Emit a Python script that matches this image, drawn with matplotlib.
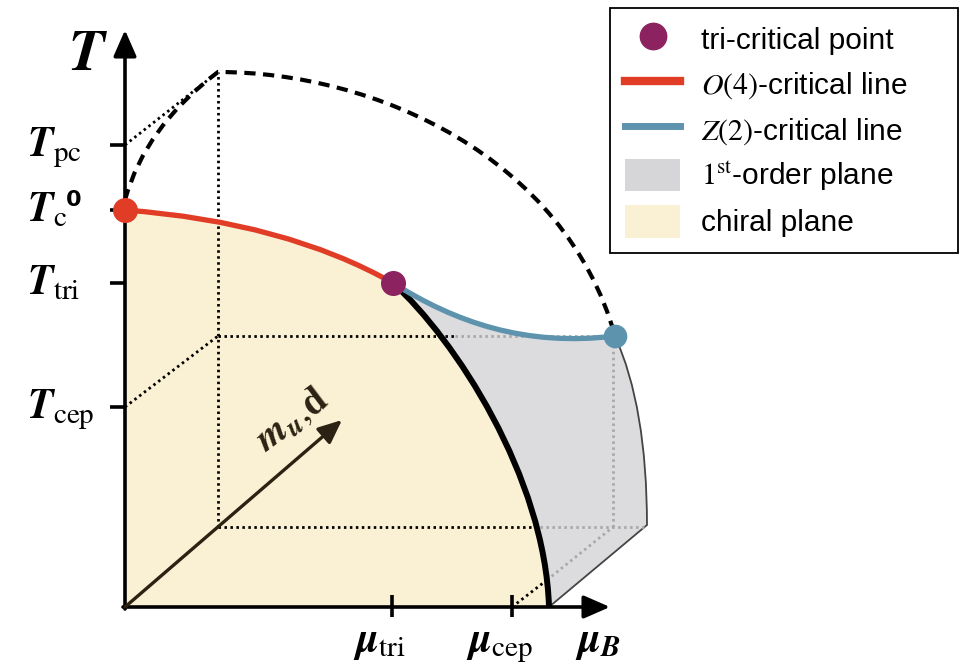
import matplotlib
matplotlib.use("Agg")
import matplotlib.pyplot as plt
from matplotlib.path import Path
from matplotlib.patches import PathPatch, Patch
from matplotlib.lines import Line2D

plt.rcParams["font.family"] = ["Liberation Sans", "DejaVu Sans"]
plt.rcParams["mathtext.fontset"] = "stix"

RED = "#e03c26"
BLUE = "#5e93ae"
PURPLE = "#8c2360"
GREY_PLANE = "#dcdcdf"
YELLOW = "#faf0d3"
ARROW_M = "#2b2213"

# --- schematic values (diagram units: mu to the right, T upwards) ---
T_TICKS = [4.62, 3.97, 3.24, 2.00]
T_LABELS = [r"$\boldsymbol{T}_{\mathrm{pc}}$", r"$\boldsymbol{T}_{\mathrm{c}}$",
            r"$\boldsymbol{T}_{\mathrm{tri}}$", r"$\boldsymbol{T}_{\mathrm{cep}}$"]
MU_TICKS = [2.67, 3.87]
MU_LABELS = [r"$\boldsymbol{\mu}_{\mathrm{tri}}$", r"$\boldsymbol{\mu}_{\mathrm{cep}}$"]

TC_POINT = (0.0, 3.97)
TRI_POINT = (2.68, 3.24)
CEP_POINT = (4.90, 2.71)
O4_CTRL = (1.6, 3.85)
FIRST_CTRL = [(3.3, 2.68), (4.2, 1.3)]
FIRST_END = (4.24, 0.0)
Z2_CTRL = [(3.3, 2.85), (4.0, 2.6)]
PLANE_CORNER = (5.22, 0.82)
EDGE_CTRL = (5.22, 2.0)

PC_START = (0.0, 4.07)
PC_CTRL = (0.2, 4.8)
PC_TOP = (0.93, 5.35)
PC_ARC_CTRL = [(2.5, 5.35), (4.4, 4.5)]

DEPTH = (0.93, 0.80)        # back-corner of the (mu, T) box, along m_ud
M_ARROW_END = (2.17, 1.87)
T_AXIS_TOP = 5.77
MU_AXIS_END = 4.85

fig = plt.figure(figsize=(9.69, 6.65), dpi=100)
ax = fig.add_axes([0, 0, 1, 1])
ax.set_xlim(-1.25, 8.44)
ax.set_ylim(-0.58, 6.07)
ax.axis("off")

M, L, C3, C4, CL = Path.MOVETO, Path.LINETO, Path.CURVE3, Path.CURVE4, Path.CLOSEPOLY

# chiral plane
chiral = Path([(0, 0), TC_POINT, O4_CTRL, TRI_POINT, FIRST_CTRL[0], FIRST_CTRL[1], FIRST_END, (0, 0)],
              [M, L, C3, C3, C4, C4, C4, CL])
ax.add_patch(PathPatch(chiral, facecolor=YELLOW, edgecolor="none", zorder=1))

# first order plane
first = Path([TRI_POINT, FIRST_CTRL[0], FIRST_CTRL[1], FIRST_END, PLANE_CORNER, EDGE_CTRL, CEP_POINT,
              Z2_CTRL[1], Z2_CTRL[0], TRI_POINT, TRI_POINT],
             [M, C4, C4, C4, L, C3, C3, C4, C4, C4, CL])
ax.add_patch(PathPatch(first, facecolor=GREY_PLANE, edgecolor="#444444", lw=1.3, zorder=1))

# dotted helper lines
dot = dict(color="black", lw=2.0, linestyle=(0, (0.9, 1.25)), zorder=2)
gdot = dict(color="#a8a8a8", lw=2.0, linestyle=(0, (0.9, 1.25)), zorder=2)
ax.plot([DEPTH[0], DEPTH[0]], [DEPTH[1], PC_TOP[1]], **dot)
ax.plot([DEPTH[0], 3.30], [CEP_POINT[1], CEP_POINT[1]], **dot)
ax.plot([3.30, CEP_POINT[0]], [CEP_POINT[1], CEP_POINT[1]], **gdot)
ax.plot([DEPTH[0], 4.15], [DEPTH[1], DEPTH[1]], **dot)
ax.plot([4.15, PLANE_CORNER[0]], [DEPTH[1], DEPTH[1]], **gdot)
ax.plot([0, PC_TOP[0]], [T_TICKS[0], PC_TOP[1]], **dot)
ax.plot([0, DEPTH[0]], [T_TICKS[3], CEP_POINT[1]], **dot)
ax.plot([MU_TICKS[1], 4.22], [0, 0.27], **dot)
ax.plot([4.22, 4.88], [0.27, DEPTH[1]], **gdot)
ax.plot([4.88, 4.88], [DEPTH[1], 2.62], **gdot)

# pseudo-critical (dashed) line
dashed = Path([PC_START, PC_CTRL, PC_TOP, PC_ARC_CTRL[0], PC_ARC_CTRL[1], CEP_POINT],
              [M, C3, C3, C4, C4, C4])
ax.add_patch(PathPatch(dashed, fill=False, edgecolor="black", lw=3.0,
                       linestyle=(0, (2.7, 1.8)), zorder=3))

# critical lines
o4 = Path([TC_POINT, O4_CTRL, TRI_POINT], [M, C3, C3])
ax.add_patch(PathPatch(o4, fill=False, edgecolor=RED, lw=3.8, zorder=4, capstyle="round"))
fo = Path([TRI_POINT, FIRST_CTRL[0], FIRST_CTRL[1], FIRST_END], [M, C4, C4, C4])
ax.add_patch(PathPatch(fo, fill=False, edgecolor="black", lw=4.3, zorder=4))
z2 = Path([TRI_POINT, Z2_CTRL[0], Z2_CTRL[1], CEP_POINT], [M, C4, C4, C4])
ax.add_patch(PathPatch(z2, fill=False, edgecolor=BLUE, lw=3.8, zorder=4, capstyle="round"))

# axes arrows
axis_arrow = dict(arrowstyle="-|>,head_length=0.8,head_width=0.35", lw=2.6, color="black",
                  shrinkA=0, shrinkB=0, mutation_scale=20)
ax.annotate("", xy=(0, T_AXIS_TOP), xytext=(0, -0.02), arrowprops=axis_arrow, zorder=5)
ax.annotate("", xy=(MU_AXIS_END, 0), xytext=(-0.02, 0), arrowprops=axis_arrow, zorder=5)
ax.annotate("", xy=M_ARROW_END, xytext=(0, 0), zorder=5,
            arrowprops=dict(arrowstyle="-|>,head_length=0.8,head_width=0.35", lw=2.4,
                            color=ARROW_M, shrinkA=0, shrinkB=0, mutation_scale=18))

# ticks
for t in T_TICKS:
    ax.plot([-0.15, 0], [t, t], color="black", lw=2.6, zorder=5, solid_capstyle="butt")
for m in MU_TICKS:
    ax.plot([m, m], [-0.10, 0.12], color="black", lw=2.6, zorder=5, solid_capstyle="butt")

# points
ax.plot(*TC_POINT, "o", color=RED, ms=17, zorder=6)
ax.plot(*TRI_POINT, "o", color=PURPLE, ms=17, zorder=6)
ax.plot(*CEP_POINT, "o", color=BLUE, ms=16, zorder=6)

# labels
ax.text(-0.37, 5.52, r"$\boldsymbol{T}$", fontsize=42, ha="center", va="center")
for t, lab in zip(T_TICKS, T_LABELS):
    ax.text(-0.98, t - 0.11, lab, fontsize=30, ha="left", va="baseline")
ax.text(-0.51, 4.07, "0", fontsize=16, fontweight="bold", family="DejaVu Sans",
        ha="center", va="center")
for m, lab in zip(MU_TICKS, MU_LABELS):
    ax.text(m - 0.12, -0.44, lab, fontsize=30, ha="center", va="baseline")
ax.text(4.50, -0.44, r"$\boldsymbol{\mu}_{\boldsymbol{B}}$", fontsize=30, ha="left", va="baseline")
ax.text(1.67, 1.87, r"$\boldsymbol{m}_{\boldsymbol{u}},\!\mathbf{d}$", fontsize=28,
        rotation=37, ha="center", va="center", color=ARROW_M)

# legend
handles = [
    Line2D([], [], marker="o", color=PURPLE, ms=19, lw=0),
    Line2D([], [], color=RED, lw=6),
    Line2D([], [], color=BLUE, lw=5),
    Patch(facecolor="#d6d6d8", edgecolor="none"),
    Patch(facecolor=YELLOW, edgecolor="none"),
]
labels = ["tri-critical point", r"$O(4)$-critical line", r"$Z(2)$-critical line",
          r"$1^{\mathrm{st}}$-order plane", "chiral plane"]
leg = ax.legend(handles, labels, loc="upper left", bbox_to_anchor=(0.6295, 0.621, 0.359, 0.367),
                mode="expand", bbox_transform=fig.transFigure, fontsize=21.5, frameon=True,
                fancybox=False, edgecolor="black", framealpha=1, borderpad=0.5, handlelength=1.85,
                handleheight=1.3, handletextpad=0.7, labelspacing=0.4, borderaxespad=0)
leg.get_frame().set_linewidth(1.3)

fig.savefig("out.png", dpi=100, facecolor="white")
